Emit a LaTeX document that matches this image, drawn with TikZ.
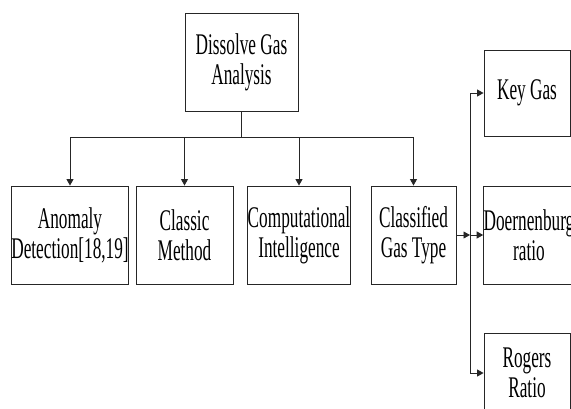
\documentclass[tikz,border=0pt]{standalone}
\usepackage{fontspec}
\setmainfont{Liberation Serif}[FakeStretch=0.575]
\usetikzlibrary{arrows.meta}
\begin{document}
\begin{tikzpicture}[x=1pt,y=-1pt,
  box/.style={draw=black!85,line width=0.9pt,inner sep=0pt,align=center,
    font=\fontsize{30}{30}\selectfont},
  conn/.style={draw=black!85,line width=0.9pt},
  arr/.style={conn,-{Triangle[length=6.5pt,width=7pt]}}]
\useasboundingbox (0,0) rectangle (571,408);
\clip (0,0) rectangle (571,408);
\node[box,minimum width=113pt,minimum height=98pt] (dga) at (241.5,62) {Dissolve Gas\\Analysis};
\node[box,minimum width=114pt,minimum height=98pt] (anom) at (70,235) {Anomaly\\Detection[18,19]};
\node[box,minimum width=97pt,minimum height=98pt] (classic) at (184.5,235) {Classic\\Method};
\node[box,minimum width=102pt,minimum height=98pt] (comp) at (299,235) {Computational\\Intelligence};
\node[box,minimum width=85pt,minimum height=98pt] (cgt) at (413.5,235) {Classified\\Gas Type};
\node[box,minimum width=86pt,minimum height=86pt] (key) at (527,93) {Key Gas};
\node[box,minimum width=90pt,minimum height=98pt] (doe) at (529,235) {Doernenburg\\ratio};
\node[box,minimum width=86pt,minimum height=80pt] (rog) at (527,373) {Rogers\\Ratio};
\coordinate (bus) at (0,137);
\coordinate (vx) at (470,0);
\draw[conn] (dga.south) -- (dga.south |- bus);
\draw[conn] (anom.north |- bus) -- (cgt.north |- bus);
\draw[arr] (anom.north |- bus) -- (anom.north);
\draw[arr] (classic.north |- bus) -- (classic.north);
\draw[arr] (comp.north |- bus) -- (comp.north);
\draw[arr] (cgt.north |- bus) -- (cgt.north);
\draw[conn] (vx |- key.west) -- (vx |- rog.west);
\draw[arr] (vx |- key.west) -- (key.west);
\draw[arr] (vx |- rog.west) -- (rog.west);
\draw[arr] (cgt.east) -- (vx |- cgt.east);
\draw[arr] (vx |- doe.west) -- (doe.west);
\end{tikzpicture}
\end{document}
